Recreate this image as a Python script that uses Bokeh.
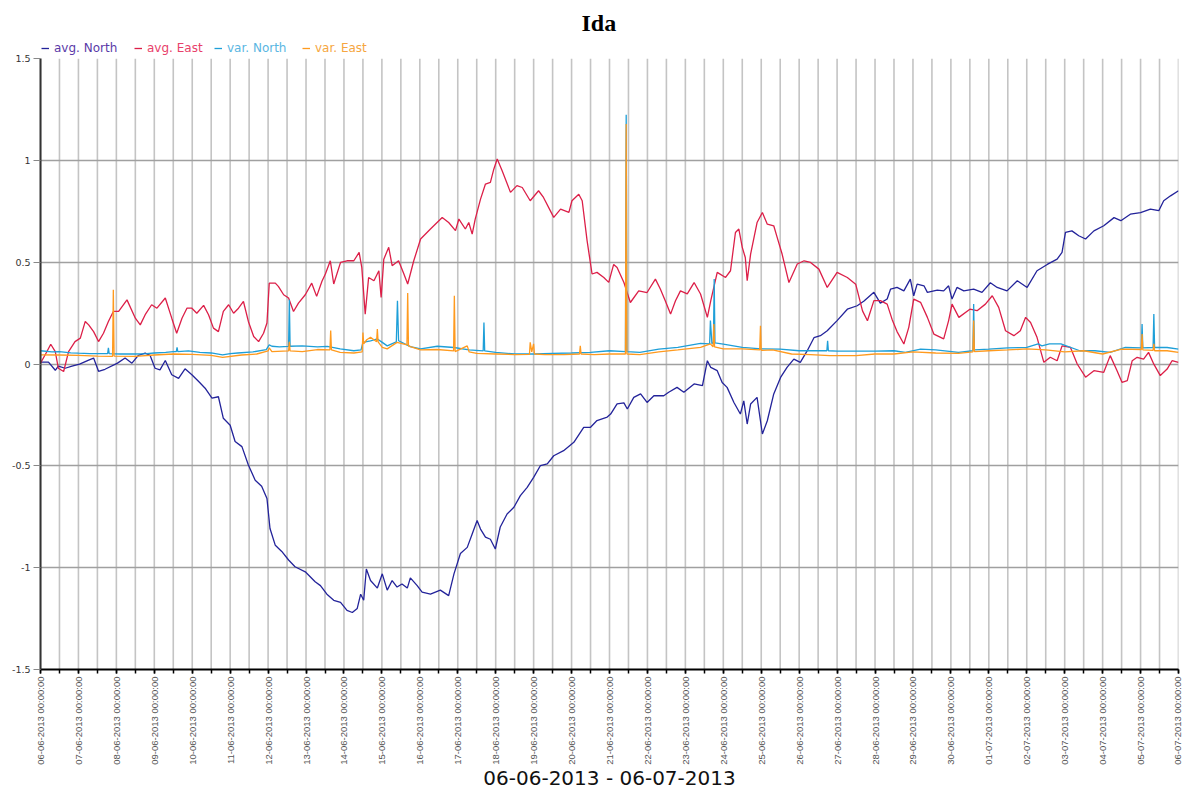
import math
from datetime import datetime, timedelta

from bokeh.plotting import figure
from bokeh.models import (Range1d, FixedTicker, DatetimeTickFormatter,
                          CustomJSTickFormatter, Legend, LegendItem)
from bokeh.embed import file_html
from bokeh.resources import INLINE

# ---------------- data ----------------
TITLE = "Ida"
X_LABEL = "06-06-2013 - 06-07-2013"
START = datetime(2013, 6, 6)
N_DAYS = 30
Y_TICKS = [-1.5, -1, -0.5, 0, 0.5, 1, 1.5]
SERIES_NAMES = ["avg. North", "avg. East", "var. North", "var. East"]

# (days since 06-06-2013 00:00, value)
avg_north = [
    (0.00, 0.010), (0.21, 0.010), (0.39, -0.030), (0.47, -0.010), (0.65, -0.020), (0.83, -0.010),
    (1.03, 0.000), (1.27, 0.020), (1.40, 0.030), (1.53, -0.035), (1.70, -0.025), (2.03, 0.005),
    (2.23, 0.030), (2.41, 0.005), (2.58, 0.043), (2.76, 0.054), (2.89, 0.043), (3.02, -0.020),
    (3.15, -0.028), (3.29, 0.018), (3.46, -0.052), (3.64, -0.070), (3.81, -0.023), (3.99, -0.052),
    (4.17, -0.085), (4.34, -0.118), (4.52, -0.167), (4.69, -0.160), (4.82, -0.266), (5.00, -0.300),
    (5.13, -0.380), (5.31, -0.405), (5.48, -0.495), (5.66, -0.570), (5.83, -0.600), (5.97, -0.660),
    (6.05, -0.807), (6.19, -0.890), (6.36, -0.920), (6.54, -0.962), (6.71, -0.995), (6.98, -1.020),
    (7.24, -1.069), (7.38, -1.088), (7.55, -1.130), (7.73, -1.160), (7.91, -1.170), (8.08, -1.210),
    (8.22, -1.220), (8.35, -1.200), (8.44, -1.130), (8.52, -1.160), (8.59, -1.006), (8.70, -1.063),
    (8.88, -1.100), (9.01, -1.030), (9.14, -1.110), (9.27, -1.063), (9.40, -1.095), (9.53, -1.080),
    (9.67, -1.100), (9.75, -1.050), (9.93, -1.088), (10.06, -1.120), (10.28, -1.130), (10.54, -1.110),
    (10.76, -1.137), (10.90, -1.030), (11.07, -0.930), (11.25, -0.900), (11.38, -0.834), (11.51, -0.768),
    (11.60, -0.810), (11.73, -0.850), (11.86, -0.860), (11.99, -0.908), (12.12, -0.800), (12.30, -0.736),
    (12.48, -0.703), (12.65, -0.646), (12.83, -0.605), (13.00, -0.556), (13.18, -0.498), (13.36, -0.490),
    (13.53, -0.450), (13.79, -0.425), (14.06, -0.384), (14.32, -0.310), (14.50, -0.310), (14.67, -0.277),
    (14.94, -0.260), (15.03, -0.245), (15.20, -0.195), (15.38, -0.190), (15.47, -0.220), (15.64, -0.163),
    (15.82, -0.146), (15.99, -0.188), (16.17, -0.155), (16.43, -0.155), (16.56, -0.138), (16.78, -0.114),
    (16.96, -0.138), (17.23, -0.097), (17.45, -0.105), (17.58, 0.017), (17.67, -0.016), (17.84, -0.032),
    (17.97, -0.090), (18.10, -0.114), (18.28, -0.188), (18.45, -0.245), (18.54, -0.180), (18.63, -0.294),
    (18.72, -0.196), (18.89, -0.163), (19.03, -0.343), (19.16, -0.278), (19.33, -0.146), (19.51, -0.065),
    (19.68, -0.016), (19.86, 0.025), (20.03, 0.009), (20.21, 0.065), (20.39, 0.130), (20.56, 0.140),
    (20.74, 0.164), (21.00, 0.214), (21.27, 0.270), (21.53, 0.287), (21.71, 0.310), (21.97, 0.353),
    (22.14, 0.300), (22.32, 0.320), (22.41, 0.369), (22.58, 0.377), (22.76, 0.360), (22.93, 0.418),
    (23.02, 0.336), (23.11, 0.393), (23.29, 0.385), (23.38, 0.353), (23.64, 0.364), (23.81, 0.360),
    (23.94, 0.385), (24.03, 0.320), (24.16, 0.377), (24.34, 0.360), (24.60, 0.369), (24.82, 0.353),
    (25.04, 0.400), (25.22, 0.377), (25.48, 0.360), (25.75, 0.410), (26.01, 0.377), (26.27, 0.459),
    (26.54, 0.490), (26.80, 0.516), (26.93, 0.549), (27.02, 0.647), (27.19, 0.655), (27.37, 0.631),
    (27.55, 0.615), (27.77, 0.655), (28.03, 0.680), (28.30, 0.720), (28.48, 0.705), (28.73, 0.737),
    (29.00, 0.745), (29.26, 0.762), (29.48, 0.754), (29.61, 0.803), (29.79, 0.827), (30.00, 0.852),
]

avg_east = [
    (0.00, 0.005), (0.17, 0.062), (0.27, 0.098), (0.39, 0.062), (0.47, -0.020), (0.61, -0.036),
    (0.74, 0.062), (0.91, 0.111), (1.05, 0.128), (1.18, 0.210), (1.27, 0.193), (1.40, 0.160),
    (1.53, 0.111), (1.66, 0.152), (1.79, 0.210), (1.92, 0.259), (2.06, 0.259), (2.28, 0.316),
    (2.50, 0.226), (2.63, 0.193), (2.76, 0.243), (2.93, 0.292), (3.07, 0.275), (3.29, 0.325),
    (3.46, 0.226), (3.59, 0.152), (3.73, 0.226), (3.86, 0.275), (3.99, 0.275), (4.12, 0.250),
    (4.30, 0.289), (4.43, 0.243), (4.56, 0.177), (4.69, 0.160), (4.82, 0.259), (4.96, 0.292),
    (5.09, 0.250), (5.22, 0.275), (5.35, 0.308), (5.48, 0.210), (5.62, 0.136), (5.75, 0.111),
    (5.88, 0.152), (5.97, 0.202), (6.03, 0.398), (6.19, 0.398), (6.27, 0.382), (6.41, 0.341),
    (6.54, 0.325), (6.67, 0.259), (6.80, 0.300), (6.98, 0.341), (7.15, 0.398), (7.28, 0.333),
    (7.42, 0.407), (7.51, 0.443), (7.64, 0.508), (7.73, 0.394), (7.91, 0.500), (8.08, 0.508),
    (8.26, 0.508), (8.40, 0.549), (8.47, 0.475), (8.56, 0.246), (8.65, 0.426), (8.79, 0.410),
    (8.92, 0.459), (8.98, 0.328), (9.05, 0.516), (9.18, 0.574), (9.27, 0.484), (9.44, 0.508),
    (9.58, 0.443), (9.68, 0.394), (9.84, 0.508), (10.02, 0.615), (10.28, 0.664), (10.59, 0.721),
    (10.76, 0.696), (10.94, 0.656), (11.03, 0.713), (11.20, 0.664), (11.29, 0.696), (11.38, 0.639),
    (11.46, 0.713), (11.60, 0.811), (11.73, 0.885), (11.86, 0.893), (11.95, 0.958), (12.04, 1.008),
    (12.17, 0.950), (12.39, 0.844), (12.56, 0.877), (12.70, 0.868), (12.91, 0.803), (13.13, 0.852),
    (13.26, 0.819), (13.53, 0.721), (13.71, 0.762), (13.93, 0.746), (14.01, 0.803), (14.19, 0.835),
    (14.28, 0.803), (14.41, 0.606), (14.54, 0.443), (14.67, 0.451), (14.85, 0.426), (14.98, 0.402),
    (15.11, 0.490), (15.20, 0.475), (15.38, 0.401), (15.55, 0.303), (15.77, 0.360), (15.99, 0.352),
    (16.21, 0.418), (16.34, 0.369), (16.47, 0.312), (16.61, 0.246), (16.74, 0.312), (16.87, 0.360),
    (17.05, 0.345), (17.23, 0.401), (17.40, 0.345), (17.58, 0.230), (17.67, 0.312), (17.84, 0.451),
    (18.06, 0.426), (18.19, 0.459), (18.32, 0.647), (18.41, 0.664), (18.50, 0.574), (18.58, 0.524),
    (18.63, 0.410), (18.72, 0.541), (18.89, 0.696), (19.03, 0.745), (19.16, 0.688), (19.33, 0.680),
    (19.42, 0.623), (19.55, 0.541), (19.73, 0.401), (19.95, 0.492), (20.13, 0.508), (20.30, 0.500),
    (20.52, 0.467), (20.74, 0.377), (21.00, 0.451), (21.27, 0.426), (21.49, 0.393), (21.67, 0.262),
    (21.80, 0.213), (21.97, 0.312), (22.14, 0.312), (22.32, 0.295), (22.45, 0.220), (22.58, 0.160),
    (22.76, 0.099), (22.89, 0.181), (23.02, 0.320), (23.20, 0.304), (23.38, 0.230), (23.55, 0.148),
    (23.81, 0.124), (23.94, 0.214), (24.03, 0.295), (24.21, 0.230), (24.50, 0.270), (24.69, 0.263),
    (24.91, 0.295), (25.09, 0.336), (25.26, 0.279), (25.44, 0.164), (25.66, 0.140), (25.83, 0.164),
    (25.97, 0.230), (26.10, 0.205), (26.27, 0.132), (26.45, 0.009), (26.62, 0.034), (26.80, 0.017),
    (26.93, 0.090), (27.15, 0.083), (27.33, 0.001), (27.55, -0.064), (27.77, -0.032), (28.03, -0.040),
    (28.20, 0.042), (28.38, -0.032), (28.51, -0.089), (28.65, -0.081), (28.78, 0.017), (28.91, 0.034),
    (29.08, 0.025), (29.21, 0.058), (29.35, 0.000), (29.52, -0.056), (29.70, -0.024), (29.83, 0.017),
    (30.00, 0.009),
]

var_north = [
    (0.00, 0.066), (0.30, 0.060), (0.50, 0.062), (0.80, 0.056), (1.00, 0.054), (1.30, 0.052),
    (1.50, 0.052), (1.77, 0.052), (1.79, 0.080), (1.81, 0.052), (2.10, 0.050), (2.50, 0.050),
    (2.80, 0.052), (3.00, 0.055), (3.30, 0.058), (3.50, 0.062), (3.58, 0.062), (3.60, 0.082),
    (3.62, 0.062), (3.90, 0.065), (4.20, 0.058), (4.50, 0.055), (4.80, 0.046), (5.00, 0.052),
    (5.20, 0.055), (5.60, 0.060), (5.95, 0.072), (6.03, 0.095), (6.10, 0.088), (6.30, 0.085),
    (6.54, 0.087), (6.56, 0.316), (6.58, 0.088), (6.90, 0.090), (7.30, 0.085), (7.56, 0.087),
    (7.90, 0.075), (8.26, 0.066), (8.45, 0.070), (8.50, 0.107), (8.70, 0.115), (8.88, 0.124),
    (9.01, 0.107), (9.14, 0.090), (9.38, 0.110), (9.41, 0.312), (9.44, 0.115), (9.75, 0.086),
    (10.02, 0.075), (10.46, 0.088), (10.90, 0.082), (11.30, 0.070), (11.67, 0.065), (11.69, 0.205),
    (11.71, 0.065), (12.00, 0.058), (12.50, 0.050), (13.00, 0.050), (13.50, 0.053), (14.00, 0.055),
    (14.50, 0.058), (15.00, 0.066), (15.42, 0.062), (15.44, 1.225), (15.46, 0.062), (15.80, 0.058),
    (16.30, 0.074), (16.80, 0.083), (17.40, 0.102), (17.64, 0.100), (17.66, 0.214), (17.70, 0.100),
    (17.74, 0.110), (17.76, 0.418), (17.78, 0.105), (18.00, 0.099), (18.50, 0.083), (19.00, 0.075),
    (19.50, 0.074), (20.00, 0.066), (20.50, 0.066), (20.73, 0.066), (20.75, 0.115), (20.77, 0.066),
    (21.00, 0.064), (21.50, 0.064), (22.00, 0.064), (22.50, 0.066), (22.80, 0.058), (23.20, 0.074),
    (23.60, 0.070), (24.20, 0.058), (24.58, 0.066), (24.60, 0.295), (24.62, 0.070), (25.00, 0.074),
    (25.50, 0.080), (26.00, 0.083), (26.30, 0.100), (26.40, 0.090), (26.60, 0.100), (26.90, 0.100),
    (27.40, 0.066), (27.80, 0.066), (28.20, 0.058), (28.60, 0.082), (29.02, 0.080), (29.04, 0.197),
    (29.06, 0.080), (29.33, 0.082), (29.35, 0.246), (29.37, 0.082), (29.70, 0.082), (30.00, 0.074),
]

var_east = [
    (0.00, 0.046), (0.50, 0.045), (1.00, 0.043), (1.50, 0.040), (1.90, 0.038), (1.92, 0.366),
    (1.94, 0.040), (2.50, 0.038), (3.00, 0.045), (3.50, 0.050), (4.00, 0.048), (4.50, 0.043),
    (4.80, 0.033), (5.30, 0.045), (5.70, 0.050), (6.00, 0.065), (6.03, 0.080), (6.10, 0.062),
    (6.54, 0.065), (6.56, 0.110), (6.58, 0.065), (6.90, 0.062), (7.30, 0.072), (7.63, 0.070),
    (7.65, 0.165), (7.67, 0.070), (7.90, 0.058), (8.26, 0.055), (8.48, 0.060), (8.50, 0.156),
    (8.52, 0.100), (8.60, 0.120), (8.70, 0.132), (8.86, 0.110), (8.88, 0.173), (8.90, 0.110),
    (9.01, 0.083), (9.14, 0.075), (9.40, 0.107), (9.66, 0.095), (9.68, 0.350), (9.70, 0.090),
    (9.75, 0.086), (10.02, 0.070), (10.46, 0.072), (10.89, 0.065), (10.91, 0.336), (10.93, 0.062),
    (11.25, 0.090), (11.30, 0.060), (11.50, 0.053), (12.00, 0.050), (12.50, 0.047), (12.89, 0.048),
    (12.91, 0.107), (12.95, 0.060), (13.00, 0.100), (13.02, 0.050), (13.30, 0.047), (13.80, 0.047),
    (14.21, 0.050), (14.23, 0.090), (14.25, 0.050), (14.60, 0.047), (15.00, 0.050), (15.42, 0.050),
    (15.44, 1.180), (15.46, 0.050), (15.80, 0.047), (16.30, 0.060), (16.80, 0.070), (17.40, 0.083),
    (17.66, 0.100), (17.73, 0.085), (17.75, 0.197), (17.77, 0.085), (18.00, 0.075), (18.50, 0.075),
    (18.96, 0.070), (18.98, 0.189), (19.00, 0.068), (19.30, 0.070), (19.80, 0.050), (20.30, 0.047),
    (20.80, 0.042), (21.50, 0.042), (22.00, 0.050), (22.50, 0.050), (23.00, 0.060), (23.60, 0.055),
    (24.20, 0.053), (24.58, 0.060), (24.60, 0.214), (24.62, 0.062), (25.00, 0.066), (25.50, 0.070),
    (26.00, 0.075), (26.50, 0.070), (27.00, 0.060), (27.50, 0.066), (28.00, 0.050), (28.50, 0.074),
    (29.02, 0.072), (29.04, 0.148), (29.06, 0.070), (29.33, 0.068), (29.35, 0.100), (29.37, 0.066),
    (29.70, 0.066), (30.00, 0.058),
]

LINE_COLORS = ["#23239a", "#dc1f48", "#1e9fd8", "#ff9a1e"]
TEXT_COLORS = ["#5a3aa8", "#e8416a", "#5ab6e2", "#f6a640"]

# ---------------- figure ----------------
EPOCH = datetime(1970, 1, 1)
def to_dt(d):
    return START + timedelta(days=d)

start_ms = (START - EPOCH).total_seconds() * 1000.0
DAY_MS = 86400000.0
day_ticks = [start_ms + i * DAY_MS for i in range(N_DAYS + 1)]
half_ticks = [start_ms + i * DAY_MS / 2 for i in range(2 * N_DAYS + 1)]

Y_MIN, Y_MAX = Y_TICKS[0], Y_TICKS[-1]
Y_TOP = Y_MAX + 0.1   # headroom above the axis for the legend row

p = figure(width=1182, height=792, x_axis_type="datetime",
           x_range=Range1d(to_dt(0), to_dt(N_DAYS)), y_range=Range1d(Y_MIN, Y_TOP),
           output_backend="svg", toolbar_location=None,
           min_border_left=40, min_border_right=4, min_border_top=38, min_border_bottom=123)
p.outline_line_color = None
p.background_fill_color = "white"

# title
p.title.text = TITLE
p.title.align = "left"
p.title.offset = 541
p.title.text_font = "Liberation Serif"
p.title.text_font_style = "bold"
p.title.text_font_size = "24px"
p.title.text_color = "#000000"
p.title.standoff = 6

# x axis
xa = p.xaxis[0]
xa.ticker = FixedTicker(ticks=day_ticks, minor_ticks=half_ticks)
fmt = "%d-%m-%Y %H:%M:%S"
xa.formatter = DatetimeTickFormatter(microseconds=fmt, milliseconds=fmt, seconds=fmt,
                                     minsec=fmt, minutes=fmt, hourmin=fmt, hours=fmt,
                                     days=fmt, months=fmt, years=fmt,
                                     strip_leading_zeros=False)
xa.major_label_orientation = math.pi / 2
xa.major_label_text_font = "Liberation Sans"
xa.major_label_text_font_size = "9.5px"
xa.major_label_text_color = "#555555"
xa.major_label_standoff = 3
xa.axis_line_color = "#000000"
xa.axis_line_width = 2
xa.major_tick_line_color = "#000000"
xa.minor_tick_line_color = "#000000"
xa.major_tick_line_width = 1.5
xa.minor_tick_line_width = 1.5
xa.major_tick_in = 0
xa.major_tick_out = 4
xa.minor_tick_in = 0
xa.minor_tick_out = 4
xa.axis_label = X_LABEL
xa.axis_label_text_font = "DejaVu Sans"
xa.axis_label_text_font_size = "20px"
xa.axis_label_text_font_style = "normal"
xa.axis_label_text_color = "#111111"
xa.axis_label_standoff = -2

# y axis
ya = p.yaxis[0]
ya.bounds = (Y_MIN, Y_MAX)
ya.ticker = FixedTicker(ticks=Y_TICKS, minor_ticks=[])
ya.formatter = CustomJSTickFormatter(code="return tick.toString();")
ya.major_label_text_font = "DejaVu Sans"
ya.major_label_text_font_size = "9.5px"
ya.major_label_text_color = "#333333"
ya.major_label_standoff = 3
ya.axis_line_color = "#333333"
ya.axis_line_width = 2
ya.major_tick_line_color = "#888888"
ya.major_tick_in = 0
ya.major_tick_out = 7
ya.minor_tick_out = 0
ya.minor_tick_in = 0

# grids: vertical lines every 12 h, only over the value range
p.xgrid.visible = False
grid_x = [EPOCH + timedelta(milliseconds=t) for t in half_ticks]
p.segment(x0=grid_x, y0=[Y_MIN] * len(grid_x), x1=grid_x, y1=[Y_MAX] * len(grid_x),
          line_color="#c4c4c4", line_width=1.6, level="underlay")
p.ygrid.ticker = FixedTicker(ticks=[t for t in Y_TICKS if abs(t) < Y_MAX])
p.ygrid.grid_line_color = "#a0a0a0"
p.ygrid.grid_line_width = 1.3

# series
renderers = []
for pts, col in zip([avg_north, avg_east, var_north, var_east], LINE_COLORS):
    xs = [to_dt(d) for d, _ in pts]
    ys = [v for _, v in pts]
    r = p.line(xs, ys, line_color=col, line_width=1.3)
    renderers.append(r)

# legend: one legend per series so that each text has its own colour
legend_x = [1, 94, 174, 262]
for name, r, tcol, lx in zip(SERIES_NAMES, renderers, TEXT_COLORS, legend_x):
    lg = Legend(items=[LegendItem(label=name, renderers=[r])],
                location=(lx, 614), orientation="horizontal",
                padding=0, margin=0, spacing=0,
                glyph_width=8, glyph_height=14, label_height=14,
                label_standoff=5, label_text_font="DejaVu Sans",
                label_text_font_size="12px", label_text_color=tcol,
                border_line_color=None, background_fill_alpha=0)
    p.add_layout(lg, "center")

open("out.html", "w").write(file_html(p, INLINE))
